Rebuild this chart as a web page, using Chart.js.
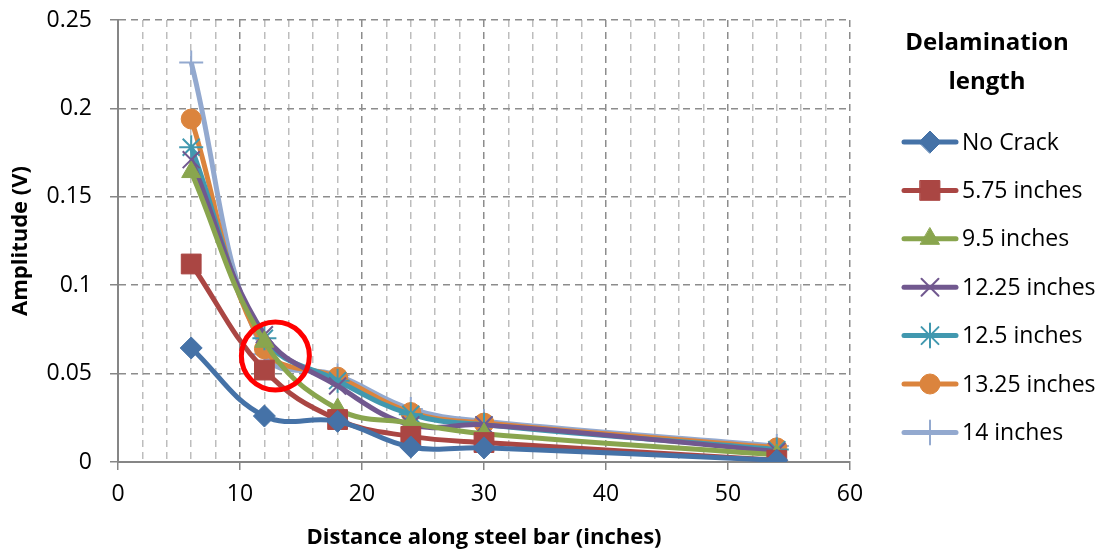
<!DOCTYPE html>
<html>
<head>
<meta charset="utf-8">
<script src="https://cdn.jsdelivr.net/npm/chart.js@4"></script>
<style>
  body { margin: 0; background: #fff; }
  #wrap { width: 1103px; height: 551px; }
</style>
</head>
<body>
<div id="wrap"><canvas id="chart" width="1103" height="551"></canvas></div>
<script>
// distance along bar (inches)
const distances = [6, 12, 18, 24, 30, 54];

const seriesNames = ['No Crack', '5.75 inches', '9.5 inches', '12.25 inches', '12.5 inches', '13.25 inches', '14 inches'];

// amplitudes (V)
const noCrack   = [0.0645, 0.026, 0.023, 0.0085, 0.008, 0.001];
const len575    = [0.112, 0.052, 0.024, 0.0145, 0.011, 0.001];
const len95     = [0.164, 0.068, 0.030, 0.022, 0.016, 0.004];
const len1225   = [0.171, 0.072, 0.043, 0.021, 0.021, 0.006];
const len125    = [0.178, 0.070, 0.046, 0.027, 0.021, 0.007];
const len1325   = [0.194, 0.064, 0.048, 0.028, 0.022, 0.008];
const len14     = [0.226, 0.061, 0.049, 0.030, 0.023, 0.009];

const allValues = [noCrack, len575, len95, len1225, len125, len1325, len14];

const colors = ['#4572A7', '#AA4643', '#89A54E', '#71588F', '#4198AF', '#DB843D', '#93A9CF'];
const markers = ['rectRot', 'rect', 'triangle', 'crossRot', 'star', 'circle', 'cross'];
const markerSizes = [11, 14, 11, 12, 12, 10, 12];

const xTicks = [0, 10, 20, 30, 40, 50, 60];
const yTicks = [0, 0.05, 0.1, 0.15, 0.2, 0.25];

// the red circle highlighted in the original figure (data coords)
const highlight = { x: 12.9, y: 0.06 };

const FONT = '"Open Sans", Lato, sans-serif';

const thinMarker = m => m === 'crossRot' || m === 'star' || m === 'cross';

const datasets = allValues.map((vals, i) => ({
    label: seriesNames[i],
    data: distances.map((d, j) => ({ x: d, y: vals[j] })),
    borderColor: colors[i],
    backgroundColor: colors[i],
    borderWidth: 5,
    pointStyle: markers[i],
    pointRadius: markerSizes[i],
    pointBorderWidth: thinMarker(markers[i]) ? 2 : 1,
    tension: 0.4
}));

// draws the highlight circle and the side legend
const extras = {
    id: 'extras',
    afterDatasetsDraw(chart) {
        const ctx = chart.ctx;
        const xs = chart.scales.x, ys = chart.scales.y;
        ctx.save();
        ctx.beginPath();
        ctx.arc(xs.getPixelForValue(highlight.x), ys.getPixelForValue(highlight.y), 34, 0, Math.PI * 2);
        ctx.strokeStyle = '#FF0000';
        ctx.lineWidth = 5;
        ctx.stroke();
        ctx.restore();
    },
    afterDraw(chart) {
        const ctx = chart.ctx;
        ctx.save();
        ctx.fillStyle = '#000';
        ctx.textAlign = 'center';
        ctx.textBaseline = 'middle';
        ctx.font = 'bold 24px ' + FONT;
        ctx.fillText('Delamination', 987, 43);
        ctx.fillText('length', 987, 82);

        ctx.font = '23px ' + FONT;
        ctx.textAlign = 'left';
        seriesNames.forEach((name, i) => {
            const y = 142 + i * 48.4;
            ctx.strokeStyle = colors[i];
            ctx.lineWidth = 5;
            ctx.lineCap = 'round';
            ctx.beginPath();
            ctx.moveTo(904, y);
            ctx.lineTo(956, y);
            ctx.stroke();
            ctx.fillStyle = colors[i];
            ctx.strokeStyle = colors[i];
            const bw = datasets[i].pointBorderWidth;
            ctx.lineWidth = bw;
            Chart.helpers.drawPoint(ctx, { pointStyle: markers[i], radius: markerSizes[i], rotation: 0, borderWidth: bw }, 930, y);
            ctx.fillStyle = '#000';
            ctx.fillText(name, 962, y + 1);
        });
        ctx.restore();
    }
};

new Chart(document.getElementById('chart'), {
    type: 'line',
    data: { datasets },
    options: {
        responsive: false,
        animation: false,
        layout: { padding: { left: 0, right: 253, top: 20, bottom: 0 } },
        plugins: { legend: { display: false }, tooltip: { enabled: false } },
        scales: {
            x: {
                type: 'linear',
                min: 0,
                max: 60,
                ticks: {
                    stepSize: 2,
                    autoSkip: false,
                    maxRotation: 0,
                    padding: 11,
                    color: '#000',
                    font: { family: FONT, size: 23 },
                    callback: v => xTicks.includes(v) ? String(v) : ''
                },
                grid: {
                    color: c => (c.tick && c.tick.value % 10 === 0) ? '#8C8C8C' : '#BDBDBD',
                    tickColor: c => (c.tick && c.tick.value % 10 === 0) ? '#868686' : 'rgba(0,0,0,0)',
                    tickLength: 8,
                    lineWidth: 1.5
                },
                border: { display: true, color: '#868686', width: 2, dash: [7, 5] },
                title: {
                    display: true,
                    text: 'Distance along steel bar (inches)',
                    color: '#000',
                    font: { family: FONT, size: 22, weight: 'bold' },
                    padding: { top: 6, bottom: 0 }
                },
                afterFit(scale) { scale.height = 89; }
            },
            y: {
                min: 0,
                max: 0.25,
                afterBuildTicks(scale) { scale.ticks = yTicks.map(v => ({ value: v })); },
                ticks: {
                    padding: 18,
                    color: '#000',
                    font: { family: FONT, size: 23 },
                    callback: v => String(+v.toFixed(2))
                },
                grid: {
                    color: '#8C8C8C',
                    tickColor: '#868686',
                    tickLength: 8,
                    lineWidth: 1.5
                },
                border: { display: true, color: '#868686', width: 2, dash: [7, 5] },
                title: {
                    display: true,
                    text: 'Amplitude (V)',
                    color: '#000',
                    font: { family: FONT, size: 22, weight: 'bold' },
                    padding: { top: 8, bottom: 0 }
                },
                afterFit(scale) {
                    scale.width = 118;
                    scale.paddingTop = 4;
                    scale.paddingBottom = 4;
                }
            }
        }
    },
    plugins: [extras]
});
</script>
</body>
</html>
